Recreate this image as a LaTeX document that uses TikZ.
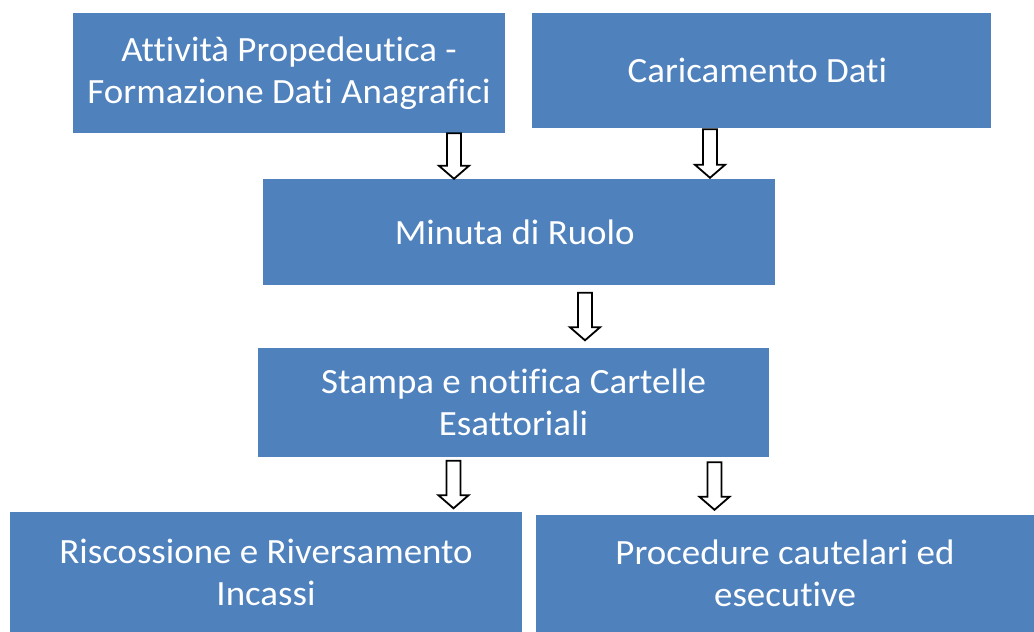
\documentclass[tikz,border=0pt]{standalone}
\usepackage{fontspec}
\setmainfont{Carlito}[FakeStretch=1.04, Ligatures=NoCommon]
\usepackage{xcolor}
\usetikzlibrary{positioning,calc}
\definecolor{c_box}{HTML}{4F81BD}
\tikzset{c-box/.style={rectangle, inner sep=0pt, align=center, text=white, fill=c_box, font=\fontsize{35.5}{42}\selectfont},
blockarrow/.style={draw=black, fill=white, line width=1.8pt, line join=miter}}
% hollow down arrow: [gap]{from}{to}{x}
\newcommand{\flowarrow}[4][0]{%
\draw [blockarrow] let \p1=(#2.south), \p2=(#3.north) in
(#4-7,\y1-#1) -- (#4+7,\y1-#1) -- (#4+7,\y2+#1+13) -- (#4+15,\y2+#1+13)
-- (#4,\y2+#1) -- (#4-15,\y2+#1+13) -- (#4-7,\y2+#1+13) -- cycle;}

\begin{document}
\begin{tikzpicture}[x=1pt, y=1pt]
\useasboundingbox (0,0) rectangle (1034,-632);
\node (attivita) [c-box, minimum width=432pt, minimum height=120pt] at (289,-73) {
Attività Propedeutica -\\
Formazione Dati Anagrafici
};
\node (caricamento) [c-box, minimum width=459pt, minimum height=115pt] at (761.5,-70.5) {
Caricamento Dati
};
\node (minuta) [c-box, minimum width=512pt, minimum height=106pt] at (519,-232) {
Minuta di Ruolo
};
\node (stampa) [c-box, minimum width=511pt, minimum height=109pt] at (513.5,-402.5) {
Stampa e notifica Cartelle\\
Esattoriali
};
\node (riscossione) [c-box, minimum width=512pt, minimum height=120pt] at (266,-572) {
Riscossione e Riversamento\\
Incassi
};
\node (procedure) [c-box, minimum width=498pt, minimum height=117pt] at (785,-573.5) {
Procedure cautelari ed\\
esecutive
};
\flowarrow{attivita}{minuta}{454}
\flowarrow[1]{caricamento}{minuta}{710}
\flowarrow[7.5]{minuta}{stampa}{585}
\flowarrow[3.5]{stampa}{riscossione}{453.5}
\flowarrow[5]{stampa}{procedure}{714.5}
\end{tikzpicture}
\end{document}
